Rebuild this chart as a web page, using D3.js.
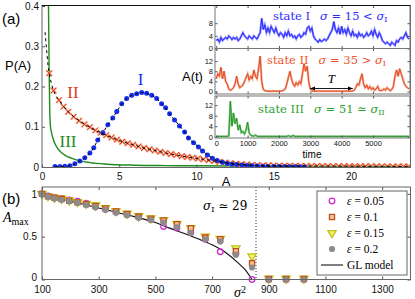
<!DOCTYPE html>
<html>
<head>
<meta charset="utf-8">
<script src="https://cdn.jsdelivr.net/npm/d3@7"></script>
<style>
  body { margin: 0; background: #fff; }
  svg { display: block; }
</style>
</head>
<body>
<div id="chart"></div>
<script>
// ---------- panel (a): P(A) ----------
const iA = [0.84,1.16,1.48,1.81,2.13,2.45,2.77,3.10,3.35,3.61,3.94,4.26,4.58,4.84,5.16,5.48,5.81,6.13,6.45,6.77,7.10,7.42,7.74,8.0,8.26,8.58,8.90,9.23,9.48,9.81,10.13,10.39,10.71,11.03,11.35,11.68,12.0,12.3,12.6,12.95,13.3,13.6,13.95,14.3,14.6,15.0,15.35,15.7,16.0,16.4,16.7,17.0];
const iP = [0.001,0.001,0.002,0.003,0.008,0.015,0.023,0.035,0.048,0.067,0.085,0.105,0.122,0.138,0.157,0.170,0.178,0.182,0.185,0.183,0.178,0.170,0.157,0.147,0.132,0.117,0.102,0.087,0.072,0.060,0.050,0.040,0.030,0.022,0.016,0.012,0.009,0.007,0.006,0.005,0.004,0.003,0.0025,0.002,0.0015,0.001,0.001,0.0008,0.0005,0.0004,0.0003,0.0002];

const iiA = [0.47,0.75,1.1,1.4,1.7,2.05,2.4,2.75,3.1,3.45,3.8,4.15,4.5,4.85,5.2,5.55,5.9,6.25,6.6,6.95,7.3,7.65,8.0,8.35,8.7,9.05,9.4,9.75,10.1,10.45,10.8,11.15,11.5,11.85,12.2,12.55,12.9,13.25,13.6,13.95,14.3,14.65,15.0,15.35,15.7,16.05,16.4,16.75,17.1,17.45,17.8,18.15,18.5,18.85,19.2,19.55,19.9,20.25,20.6,20.95,21.3,21.65,22.0,22.35,22.7,23.05,23.4,23.75];
const iiP = [0.233,0.19,0.166,0.15,0.137,0.125,0.115,0.106,0.099,0.091,0.085,0.079,0.073,0.068,0.063,0.059,0.055,0.051,0.047,0.044,0.041,0.038,0.035,0.032,0.030,0.027,0.025,0.023,0.021,0.019,0.017,0.015,0.013,0.011,0.0095,0.008,0.007,0.006,0.005,0.0045,0.004,0.0038,0.0035,0.0032,0.003,0.003,0.0028,0.0026,0.0025,0.0024,0.0023,0.0022,0.0021,0.002,0.002,0.002,0.0019,0.0018,0.0018,0.0017,0.0016,0.0016,0.0015,0.0015,0.0014,0.0014,0.0013,0.0013];
// start of the black dashed fit of II, above the first cross
const fit2A = [0.2,0.3,0.4];
const fit2P = [0.335,0.29,0.25];

const iiiA = [0.42,0.46,0.5,0.55,0.62,0.72,0.85,1.0,1.2,1.5,1.9,2.4,3.1,4.2,6,8,10,14,18,24];
const iiiP = [0.4,0.25,0.14,0.1,0.085,0.07,0.057,0.047,0.038,0.029,0.022,0.016,0.011,0.007,0.0045,0.0035,0.003,0.0025,0.002,0.002];

const aTicksX = [0,5,10,15,20];
const aTicksY = [0,0.1,0.2,0.3,0.4];

// ---------- inset: A(t), one value every 50 time units ----------
const tStep = 50;
const stateI = [2.5,3,2,3.5,2.5,3,3.5,3,4,3.5,
  2.8,3.5,3,3.5,2.5,3,4,5,4,3.5,
  3,4,3.5,3,4,3.5,3,4,5,9.5,
  6,7.5,5,6.5,5,7,6,5,6.5,5,
  4,5,4.5,3.5,5,4,5.5,4,4.5,3.5,
  4,3,4,4.5,3.5,4,5,4.5,6.5,7,
  5.5,6.5,4,3,2.5,2,2.8,2.2,2.5,3,
  2.5,3,4,5,6,8.5,6,5,6.5,4.5,
  7,5,6,4.5,6.5,5,4,5.5,4,4.5,
  3.5,5,4,4.5,3.5,4,5,4,4.5,5.5,
  4,6,4.5,3.5,5,4,2.5,2,1.5,2,
  1.5,1,2,1.5,1,2.5,2,3,3.5,3,
  4,5,3.5,3];
const stateII = [5,7,6,9.5,5,8,4,3,1,0.5,
  0.8,1.5,3,6,3,1.5,2,2.5,4,5.5,
  7,4.5,6,5,8.5,6,5,9,14,4,
  0.8,0.3,0.2,0.1,0.1,0.1,0.2,0.1,0.1,0.1,
  0.2,0.1,0.3,0.5,1,3,5.5,8,5,3,
  2,3.5,2.5,4,3,7,11,8,10,4,
  1,0.3,0.1,0.1,0.1,0.2,0.1,0.1,0.1,0.2,
  0.1,0.1,0.1,0.2,0.1,0.1,0.1,0.1,0.2,0.1,
  0.1,0.1,0.1,0.2,0.1,0.1,0.1,0.2,0.5,1.5,
  3,2.5,5,7,3,1.5,2.5,1,2,0.8,
  1.5,0.5,1,2,0.5,0.3,0.5,1,0.5,1.5,
  0.8,0.3,0.8,2,6,8.5,6,9,7,5,
  3,2,1.5,1];
const stateIII = [0.1,0.1,0.1,0.1,0.1,0.1,0.1,0.1,0.3,13.5,
  4,9,5,7,2.5,4.5,1.5,2,1,2.5,
  5.5,1.5,0.5,0.3,0.2,0.6,0.2,0.1,0.1,0.1,
  0.1,0.1,0.1,0.1,0.1,0.1,0.1,0.1,0.1,0.1,
  0.1,0.1,0.1,0.1,0.1,0.1,0.4,0.1,0.1,0.5,
  0.1,0.1,0.1,0.1,0.1,0.1,0.1,0.1,0.1,0.1,
  0.1,0.1,0.1,0.1,0.1,0.1,0.1,0.1,0.1,0.1,
  0.1,0.1,0.1,0.1,0.1,0.1,0.1,0.1,0.1,0.1,
  0.1,0.1,0.1,0.1,0.1,0.1,0.1,0.1,0.1,0.1,
  0.1,0.1,0.1,0.1,0.1,0.1,0.1,0.1,0.1,0.1,
  0.1,0.1,0.1,0.1,0.1,0.1,0.1,0.1,0.1,0.1,
  0.1,0.1,0.1,0.1,0.1,0.1,0.1,0.1,0.1,0.1,
  0.1,0.1,0.1,0.1];
const tTicks = [0,1000,2000,3000,4000,5000];
const periodT = [3000,4350];

// ---------- panel (b): A_max vs sigma^2 ----------
const sig2 = [100,121,144,169,196,225,256,289,324,361,400,441,484,529,576,625,676,729,784,841,900,961,1024];
const eps05 = [1.0,0.975,0.955,0.945,0.93,0.915,0.89,0.85,0.82,0.79,0.76,0.73,0.7,0.62,0.6,0.55,0.47,0.325,0.3,0,0,0,0];
const eps10 = [1.0,0.97,0.955,0.94,0.92,0.9,0.88,0.86,0.83,0.795,0.765,0.735,0.71,0.69,0.645,0.6,0.49,0.47,0.33,0.19,0.005,0.005,0.005];
const eps15 = [1.0,0.975,0.955,0.945,0.925,0.905,0.885,0.865,0.835,0.8,0.77,0.74,0.715,0.695,0.65,0.6,0.5,0.475,0.365,0.27,0.01,0.01,0.01];
const eps20 = [0.995,0.965,0.945,0.93,0.915,0.895,0.87,0.845,0.815,0.78,0.75,0.72,0.695,0.665,0.61,0.545,0.47,0.445,0.29,0.14,0,0,0];
const glS2 = [100,200,300,400,500,550,600,650,700,750,790,815,841];
const glA = [1.0,0.915,0.835,0.755,0.665,0.6,0.54,0.475,0.405,0.31,0.2,0.12,0.0];
const sigmaI2 = 855;
const bTicksX = [100,300,500,700,900,1100,1300];
const bTicksY = [0,0.5,1];

const SANS = "'Liberation Sans', Arial, sans-serif";
const SERIF = "'Liberation Serif', 'Times New Roman', serif";
const DSERIF = "'DejaVu Serif', serif";

const svg = d3.select("#chart").append("svg")
    .attr("width", 415).attr("height", 299)
    .style("font-family", SANS);

function styleAxis(g, size) {
    g.select(".domain").remove();
    g.selectAll(".tick line").attr("stroke", "#555");
    g.selectAll(".tick text").attr("fill", "#111").style("font-size", size + "px").style("font-family", SANS);
}

// ================= panel (a) =================
const ax = d3.scaleLinear().domain([0, 23.85]).range([42, 410.5]);
const ay = d3.scaleLinear().domain([0, 0.4]).range([167, 6]);
const aL = 42, aR = 410.5, aT = 5.5, aB = 167.5;

svg.append("clipPath").attr("id", "clipA")
    .append("rect").attr("x", aL).attr("y", aT).attr("width", aR - aL).attr("height", aB - aT);

svg.append("g").attr("transform", `translate(${aL},0)`)
    .call(d3.axisLeft(ay).tickValues(aTicksY).tickSize(-3).tickPadding(3)
        .tickFormat(d => d === 0 ? "0" : d3.format(".1f")(d)))
    .call(g => styleAxis(g, 10));
svg.append("g").attr("transform", `translate(0,${aB})`)
    .call(d3.axisBottom(ax).tickValues(aTicksX).tickSize(-3).tickPadding(5))
    .call(g => styleAxis(g, 10));

const plotA = svg.append("g").attr("clip-path", "url(#clipA)");

const lineA = d3.line().x(d => ax(d[0])).y(d => ay(d[1]));

// III: green line
plotA.append("path")
    .datum(iiiA.map((a, i) => [a, iiiP[i]]))
    .attr("d", lineA.curve(d3.curveMonotoneX))
    .attr("fill", "none").attr("stroke", "#1e8c1e").attr("stroke-width", 1.4);

// II: crosses
const crossSym = d3.symbol(d3.symbolTimes, 22);
const iiPts = iiA.map((a, i) => [a, iiP[i]]);
plotA.selectAll(".x2halo").data(iiPts).join("path")
    .attr("transform", d => `translate(${ax(d[0])},${ay(d[1])})`)
    .attr("d", crossSym).attr("fill", "none")
    .attr("stroke", "#f6a88e").attr("stroke-width", 2);
plotA.selectAll(".x2").data(iiPts).join("path")
    .attr("transform", d => `translate(${ax(d[0])},${ay(d[1])})`)
    .attr("d", crossSym).attr("fill", "none")
    .attr("stroke", "#e0401a").attr("stroke-width", 1);

// I: blue dots
const iPts = iA.map((a, i) => [a, iP[i]]);
plotA.selectAll(".d1").data(iPts).join("circle")
    .attr("cx", d => ax(d[0])).attr("cy", d => ay(d[1]))
    .attr("r", 2.5).attr("fill", "#1530f0");

// black dashed fits
plotA.append("path").datum(iPts)
    .attr("d", lineA.curve(d3.curveMonotoneX))
    .attr("fill", "none").attr("stroke", "#000").attr("stroke-width", 1)
    .attr("stroke-dasharray", "3,3");
plotA.append("path")
    .datum(fit2A.map((a, i) => [a, fit2P[i]]).concat(iiPts))
    .attr("d", lineA.curve(d3.curveMonotoneX))
    .attr("fill", "none").attr("stroke", "#000").attr("stroke-width", 1)
    .attr("stroke-dasharray", "3,3");

svg.append("rect").attr("x", aL).attr("y", aT).attr("width", aR - aL).attr("height", aB - aT)
    .attr("fill", "none").attr("stroke", "#666").attr("stroke-width", 1);
svg.append("line").attr("x1", aL).attr("x2", aR).attr("y1", aT).attr("y2", aT)
    .attr("stroke", "#111").attr("stroke-width", 1.2);

// labels of panel (a)
svg.append("text").attr("x", 2).attr("y", 24).text("(a)").style("font-size", "15px");
svg.append("text").attr("x", 5).attr("y", 70).text("P(A)").style("font-size", "13px");
svg.append("text").attr("x", 226).attr("y", 186).attr("text-anchor", "middle").text("A").style("font-size", "13px");
svg.append("text").attr("x", 140.5).attr("y", 85).attr("text-anchor", "middle").text("I")
    .style("font-family", SERIF).style("font-size", "17px").attr("fill", "#1530f0");
svg.append("text").attr("x", 73).attr("y", 98).attr("text-anchor", "middle").text("II")
    .style("font-family", SERIF).style("font-size", "17px").attr("fill", "#e0401a");
svg.append("text").attr("x", 68).attr("y", 147).attr("text-anchor", "middle").text("III")
    .style("font-family", SERIF).style("font-size", "17px").attr("fill", "#1e8c1e");

// ================= inset =================
const iL = 215, iR = 410;
const tx = d3.scaleLinear().domain([-40, 6180]).range([iL, iR]);
const panels = [
    { data: stateI, top: 5.5, bot: 48.5, dom: [0, 13.6], ticks: [0,4,8], dark: "#1f1fff", light: "#8c8cff" },
    { data: stateII, top: 48.5, bot: 94, dom: [-1, 17], ticks: [0,4,8,12], dark: "#e0401a", light: "#f6a88e" },
    { data: stateIII, top: 96, bot: 138, dom: [-0.5, 15.5], ticks: [0,4,8,12], dark: "#1e8c1e", light: "#8fd08f" }
];

svg.append("rect").attr("x", iL).attr("y", 5.5).attr("width", iR - iL).attr("height", 138 - 5.5)
    .attr("fill", "#fff");

panels.forEach((p, k) => {
    const py = d3.scaleLinear().domain(p.dom).range([p.bot, p.top]);
    svg.append("clipPath").attr("id", "clipI" + k)
        .append("rect").attr("x", iL).attr("y", p.top).attr("width", iR - iL).attr("height", p.bot - p.top);
    const pts = p.data.map((v, i) => [i * tStep, v]);
    const ln = d3.line().x(d => tx(d[0])).y(d => py(d[1]));
    const g = svg.append("g").attr("clip-path", `url(#clipI${k})`);
    g.append("path").datum(pts).attr("d", ln).attr("fill", "none")
        .attr("stroke", p.light).attr("stroke-width", 2.2);
    g.append("path").datum(pts).attr("d", ln).attr("fill", "none")
        .attr("stroke", p.dark).attr("stroke-width", 0.9);

    svg.append("g").attr("transform", `translate(${iL},0)`)
        .call(d3.axisLeft(py).tickValues(p.ticks).tickSize(-2.5).tickPadding(2))
        .call(g => styleAxis(g, 7.5));
    svg.append("g").attr("transform", `translate(${iR},0)`)
        .call(d3.axisRight(py).tickValues(p.ticks).tickSize(-2.5).tickFormat(""))
        .call(g => styleAxis(g, 7.5));
    svg.append("g").attr("transform", `translate(0,${p.bot})`)
        .call(d3.axisBottom(tx).tickValues(tTicks).tickSize(-2.5).tickPadding(3)
            .tickFormat(k === 2 ? d3.format("d") : ""))
        .call(g => styleAxis(g, 7.5));
    svg.append("g").attr("transform", `translate(0,${p.top})`)
        .call(d3.axisTop(tx).tickValues(tTicks).tickSize(-2.5).tickFormat(""))
        .call(g => styleAxis(g, 7.5));
    svg.append("rect").attr("x", iL).attr("y", p.top).attr("width", iR - iL).attr("height", p.bot - p.top)
        .attr("fill", "none").attr("stroke", "#777").attr("stroke-width", 1);
});
svg.append("line").attr("x1", iL).attr("x2", iR).attr("y1", 5.5).attr("y2", 5.5)
    .attr("stroke", "#111").attr("stroke-width", 1.2);

svg.append("text").attr("x", 182).attr("y", 81).text("A(t)").style("font-size", "13px");
svg.append("text").attr("x", 312).attr("y", 158).attr("text-anchor", "middle").text("time").style("font-size", "10px");

// state texts
function stateText(x, y, color, name, rel, sub) {
    const t = svg.append("text").attr("x", x).attr("y", y).attr("fill", color)
        .style("font-family", DSERIF).style("font-size", "11.5px");
    t.append("tspan").text(name);
    t.append("tspan").attr("dx", 10).style("font-style", "italic").text("σ");
    t.append("tspan").text(" = " + rel + " ");
    t.append("tspan").style("font-style", "italic").text("σ");
    t.append("tspan").attr("baseline-shift", "-30%").style("font-size", "8px").text(sub);
}
stateText(273, 20, "#2a2aff", "state I", "15 <", "I");
stateText(267, 64, "#f0532e", "state II", "35 >", "I");
stateText(258, 113, "#2e9e2e", "state III", "51 ≃", "II");

// period arrow T in panel II
const arrY = 88.5;
const defs = svg.append("defs");
defs.append("marker").attr("id", "arr").attr("viewBox", "0 0 10 10").attr("refX", 9).attr("refY", 5)
    .attr("markerWidth", 6).attr("markerHeight", 6).attr("orient", "auto-start-reverse")
    .append("path").attr("d", "M0,1 L10,5 L0,9 z").attr("fill", "#000");
svg.append("line").attr("x1", tx(periodT[0])).attr("x2", tx(periodT[1]))
    .attr("y1", arrY).attr("y2", arrY).attr("stroke", "#000").attr("stroke-width", 0.9)
    .attr("marker-start", "url(#arr)").attr("marker-end", "url(#arr)");
svg.append("text").attr("x", (tx(periodT[0]) + tx(periodT[1])) / 2).attr("y", 83)
    .attr("text-anchor", "middle").text("T")
    .style("font-family", SERIF).style("font-style", "italic").style("font-size", "13px");

// ================= panel (b) =================
const bx = d3.scaleLinear().domain([100, 1400]).range([42, 410.5]);
const by = d3.scaleLinear().domain([0, 1.08]).range([279.5, 187]);
const bL = 42, bR = 410.5, bT = 187, bB = 279.5;

svg.append("g").attr("transform", `translate(${bL},0)`)
    .call(d3.axisLeft(by).tickValues(bTicksY).tickSize(-3).tickPadding(5).tickFormat(d3.format("")))
    .call(g => styleAxis(g, 10))
    .call(g => g.selectAll(".tick text").filter(d => d === 0).attr("dy", "0.1em"));
svg.append("g").attr("transform", `translate(${bR},0)`)
    .call(d3.axisRight(by).tickValues(bTicksY).tickSize(-3).tickFormat(""))
    .call(g => styleAxis(g, 10));
svg.append("g").attr("transform", `translate(0,${bB})`)
    .call(d3.axisBottom(bx).tickValues(bTicksX).tickSize(-3).tickPadding(6).tickFormat(d3.format("d")))
    .call(g => styleAxis(g, 10));
svg.append("g").attr("transform", `translate(0,${bT})`)
    .call(d3.axisTop(bx).tickValues(bTicksX).tickSize(-3).tickFormat(""))
    .call(g => styleAxis(g, 10));

// dotted critical line
svg.append("line").attr("x1", bx(sigmaI2)).attr("x2", bx(sigmaI2)).attr("y1", bT).attr("y2", bB)
    .attr("stroke", "#222").attr("stroke-width", 1).attr("stroke-dasharray", "1,2");

// GL model
svg.append("path").datum(glS2.map((s, i) => [s, glA[i]]))
    .attr("d", d3.line().x(d => bx(d[0])).y(d => by(d[1])).curve(d3.curveMonotoneX))
    .attr("fill", "none").attr("stroke", "#111").attr("stroke-width", 1.1);

const sMag = { stroke: "#d22ad2", fill: "none", sw: 1.3 };
function drawCircles(vals, r, fill, stroke, sw) {
    svg.append("g").selectAll("circle").data(sig2.map((s, i) => [s, vals[i]])).join("circle")
        .attr("cx", d => bx(d[0])).attr("cy", d => by(d[1])).attr("r", r)
        .attr("fill", fill).attr("stroke", stroke).attr("stroke-width", sw);
}
function drawSymbols(vals, sym, rot, fill, stroke, sw) {
    svg.append("g").selectAll("path").data(sig2.map((s, i) => [s, vals[i]])).join("path")
        .attr("transform", d => `translate(${bx(d[0])},${by(d[1])}) rotate(${rot})`)
        .attr("d", sym).attr("fill", fill).attr("stroke", stroke).attr("stroke-width", sw);
}
const sqSym = d3.symbol(d3.symbolSquare, 26);
const triSym = d3.symbol(d3.symbolTriangle, 30);

drawCircles(eps05, 2.8, "none", sMag.stroke, sMag.sw);
drawSymbols(eps15, triSym, 180, "#f0f070", "#c2c21a", 1.3);
drawSymbols(eps10, sqSym, 0, "#f3c29a", "#c0501a", 1.3);
drawCircles(eps20, 3.1, "#8c8c8c", "none", 0);

svg.append("rect").attr("x", bL).attr("y", bT).attr("width", bR - bL).attr("height", bB - bT)
    .attr("fill", "none").attr("stroke", "#666").attr("stroke-width", 1);

// labels of panel (b)
svg.append("text").attr("x", 2).attr("y", 204).text("(b)").style("font-size", "15px");
const amax = svg.append("text").attr("x", 3).attr("y", 222).style("font-family", SERIF).style("font-size", "14px");
amax.append("tspan").style("font-style", "italic").text("A");
amax.append("tspan").attr("baseline-shift", "-25%").style("font-size", "10px").text("max");
const s2 = svg.append("text").attr("x", 234).attr("y", 297).style("font-family", SERIF).style("font-size", "14px");
s2.append("tspan").style("font-style", "italic").text("σ");
s2.append("tspan").attr("baseline-shift", "45%").style("font-size", "10px").text("2");
const sI = svg.append("text").attr("x", 203).attr("y", 210).style("font-family", DSERIF).style("font-size", "12px");
sI.append("tspan").style("font-style", "italic").text("σ");
sI.append("tspan").attr("baseline-shift", "-30%").style("font-size", "8px").text("I");
sI.append("tspan").text(" ≃ 29");

// legend
const lg = svg.append("g");
lg.append("rect").attr("x", 317).attr("y", 191).attr("width", 90).attr("height", 84)
    .attr("fill", "#fff").attr("stroke", "#666").attr("stroke-width", 1);
const legRows = [
    { label: "0.05", kind: "mag" },
    { label: "0.1", kind: "sq" },
    { label: "0.15", kind: "tri" },
    { label: "0.2", kind: "gray" },
    { label: "GL model", kind: "line" }
];
legRows.forEach((r, i) => {
    const cy = 201 + i * 16, cx = 332;
    if (r.kind === "mag") lg.append("circle").attr("cx", cx).attr("cy", cy).attr("r", 2.8)
        .attr("fill", "none").attr("stroke", sMag.stroke).attr("stroke-width", sMag.sw);
    if (r.kind === "sq") lg.append("path").attr("transform", `translate(${cx},${cy})`).attr("d", sqSym)
        .attr("fill", "#f3c29a").attr("stroke", "#c0501a").attr("stroke-width", 1.3);
    if (r.kind === "tri") lg.append("path").attr("transform", `translate(${cx},${cy}) rotate(180)`).attr("d", triSym)
        .attr("fill", "#f0f070").attr("stroke", "#c2c21a").attr("stroke-width", 1.3);
    if (r.kind === "gray") lg.append("circle").attr("cx", cx).attr("cy", cy).attr("r", 3.1).attr("fill", "#8c8c8c");
    if (r.kind === "line") lg.append("line").attr("x1", 321).attr("x2", 343).attr("y1", cy).attr("y2", cy)
        .attr("stroke", "#555").attr("stroke-width", 1.5);
    const t = lg.append("text").attr("x", 347).attr("y", cy + 4)
        .style("font-family", SERIF).style("font-size", "11.5px");
    if (r.kind === "line") t.text(r.label);
    else {
        t.append("tspan").style("font-style", "italic").text("ε");
        t.append("tspan").text(" = " + r.label);
    }
});
</script>
</body>
</html>
